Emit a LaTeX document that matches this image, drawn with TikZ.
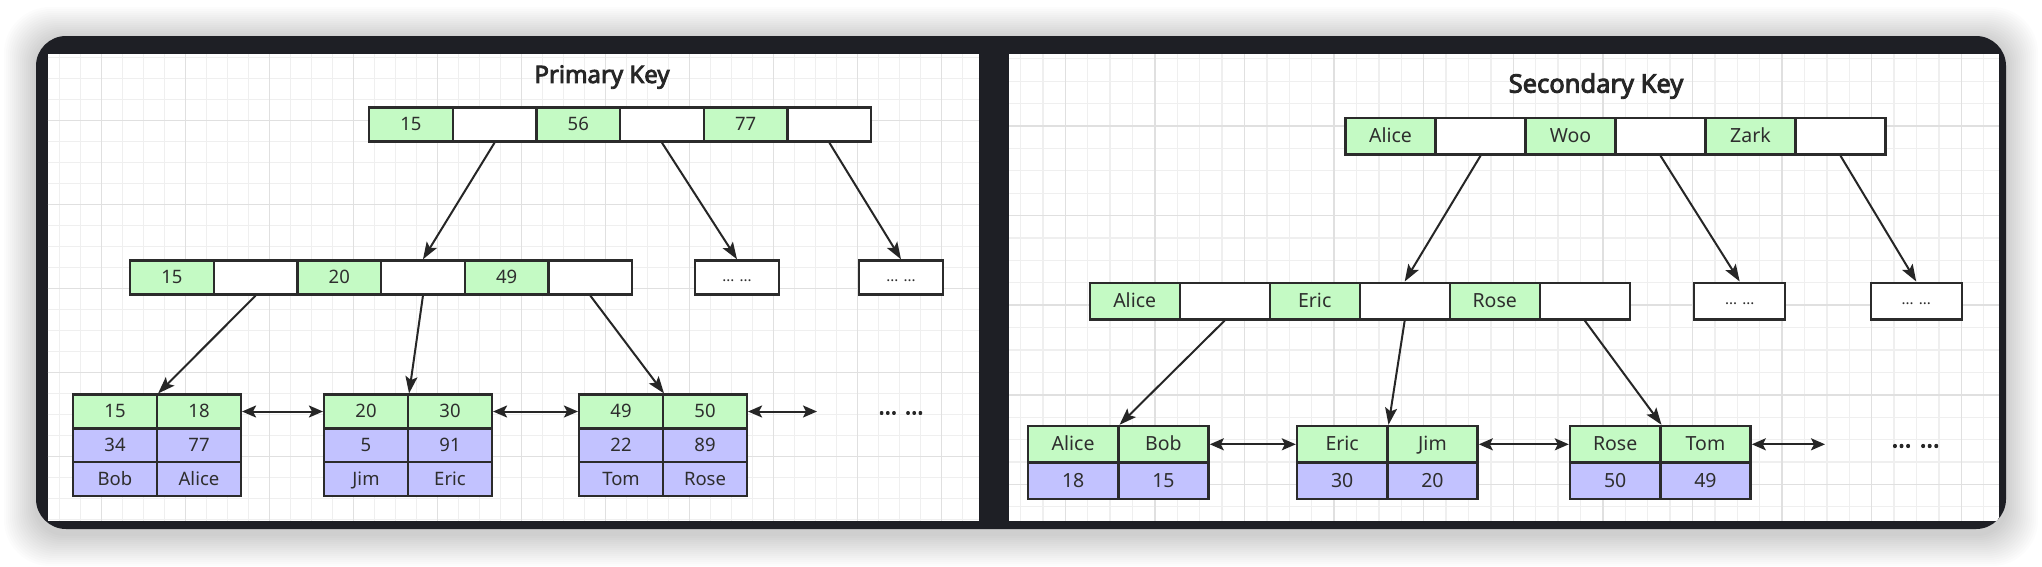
\documentclass[tikz,border=0pt]{standalone}
\usepackage{fontspec}
\setmainfont{Noto Sans}
\newfontfamily\titlefont{Noto Sans}[FakeBold=3.5]
\usetikzlibrary{arrows.meta}
\definecolor{cgreen}{HTML}{C4FAC4}
\definecolor{cpurple}{HTML}{C2C2FF}
\definecolor{cborder}{HTML}{2B2B2B}
\definecolor{cframe}{HTML}{1E1F25}
\definecolor{gminor}{HTML}{EFEFEF}
\definecolor{gmajor}{HTML}{E0E0E0}
\begin{document}
\begin{tikzpicture}[x=1pt,y=-1pt,
  cellL/.style={draw=cborder, line width=2.4pt, minimum width=83.7pt, minimum height=34pt, inner sep=0pt, font=\fontsize{18.5}{20}\selectfont, text=black!82, text height=13.2pt, text depth=1pt},
  cellR/.style={draw=cborder, line width=2.4pt, minimum width=90pt, minimum height=36.6pt, inner sep=0pt, font=\fontsize{19.5}{21}\selectfont, text=black!82, text height=14pt, text depth=1pt},
  g/.style={fill=cgreen}, w/.style={fill=white}, p/.style={fill=cpurple},
  dots/.style={font=\fontsize{15}{17}\selectfont, text height=10pt, text depth=3pt},
  arr/.style={draw=black!85, line width=2pt, -{Stealth[length=17pt,width=12pt,inset=3.5pt]}},
  darr/.style={draw=black!85, line width=2pt, {Stealth[length=14pt,width=12pt,inset=3pt]}-{Stealth[length=14pt,width=12pt,inset=3pt]}},
  title/.style={font=\titlefont\fontsize{24}{26}\selectfont, text=black!85},
  more/.style={font=\titlefont\fontsize{23}{25}\selectfont, text=black!85}]
\useasboundingbox (0,0) rectangle (2042,566);
\fill[white] (0,0) rectangle (2042,566);
% shadow
\foreach \k in {1,...,16} {
  \fill[black, opacity=0.011, rounded corners={30pt+\k pt}] ({36-2*\k},{36-2*\k+3}) rectangle ({2006+2*\k},{529+2*\k+5});
}
% frame
\fill[cframe, rounded corners=30pt] (36,36) rectangle (2006,529);
\begin{scope}
\clip[rounded corners=30pt] (36,36) rectangle (2006,529);
% left panel
\fill[white] (47.5,54) rectangle (979,521);
\begin{scope}
\clip (47.5,54) rectangle (979,521);
\foreach \i in {0,...,43} \draw[gminor, line width=1.3pt] ({59.7+21*\i},54) -- ++(0,467);
\foreach \i in {0,...,22} \draw[gminor, line width=1.3pt] (47.5,{57.7+21*\i}) -- ++(931.5,0);
\foreach \i in {0,...,10} \draw[gmajor, line width=1.5pt] ({101.7+84*\i},54) -- ++(0,467);
\foreach \i in {0,...,4} \draw[gmajor, line width=1.5pt] (47.5,{120.7+84*\i}) -- ++(931.5,0);
\end{scope}
% right panel
\fill[white] (1009,54) rectangle (1999,521);
\begin{scope}
\clip (1009,54) rectangle (1999,521);
\foreach \i in {0,...,43} \draw[gminor, line width=1.3pt] ({1020.5+22.4*\i},54) -- ++(0,467);
\foreach \i in {0,...,20} \draw[gminor, line width=1.3pt] (1009,{58.8+22.4*\i}) -- ++(990,0);
\foreach \i in {0,...,10} \draw[gmajor, line width=1.5pt] ({1065.3+89.6*\i},54) -- ++(0,467);
\foreach \i in {0,...,4} \draw[gmajor, line width=1.5pt] (1009,{126+89.6*\i}) -- ++(990,0);
\end{scope}
\end{scope}

% ================= LEFT: Primary Key =================
\node[title] (tL) at (602,77) {Primary Key};
% root
\node[cellL,g] (lr1) at (410.85,124.5) {15};
\node[cellL,w] (lr2) at (494.55,124.5) {};
\node[cellL,g] (lr3) at (578.25,124.5) {56};
\node[cellL,w] (lr4) at (661.95,124.5) {};
\node[cellL,g] (lr5) at (745.65,124.5) {77};
\node[cellL,w] (lr6) at (829.35,124.5) {};
% level 2
\node[cellL,g] (lm1) at (171.85,277.5) {15};
\node[cellL,w] (lm2) at (255.55,277.5) {};
\node[cellL,g] (lm3) at (339.25,277.5) {20};
\node[cellL,w] (lm4) at (422.95,277.5) {};
\node[cellL,g] (lm5) at (506.65,277.5) {49};
\node[cellL,w] (lm6) at (590.35,277.5) {};
\node[cellL,w,dots] (lx1) at (737,277.5) {... ...};
\node[cellL,w,dots] (lx2) at (901,277.5) {... ...};
% leaves
\node[cellL,g,minimum height=33.7pt] (la1) at (115,411.5) {15};
\node[cellL,g,minimum height=33.7pt] (la2) at (199,411.5) {18};
\node[cellL,p,minimum height=33.7pt] (la3) at (115,445.2) {34};
\node[cellL,p,minimum height=33.7pt] (la4) at (199,445.2) {77};
\node[cellL,p,minimum height=33.7pt] (la5) at (115,478.9) {Bob};
\node[cellL,p,minimum height=33.7pt] (la6) at (199,478.9) {Alice};
\node[cellL,g,minimum height=33.7pt] (lb1) at (366,411.5) {20};
\node[cellL,g,minimum height=33.7pt] (lb2) at (450,411.5) {30};
\node[cellL,p,minimum height=33.7pt] (lb3) at (366,445.2) {5};
\node[cellL,p,minimum height=33.7pt] (lb4) at (450,445.2) {91};
\node[cellL,p,minimum height=33.7pt] (lb5) at (366,478.9) {Jim};
\node[cellL,p,minimum height=33.7pt] (lb6) at (450,478.9) {Eric};
\node[cellL,g,minimum height=33.7pt] (lc1) at (621,411.5) {49};
\node[cellL,g,minimum height=33.7pt] (lc2) at (705,411.5) {50};
\node[cellL,p,minimum height=33.7pt] (lc3) at (621,445.2) {22};
\node[cellL,p,minimum height=33.7pt] (lc4) at (705,445.2) {89};
\node[cellL,p,minimum height=33.7pt] (lc5) at (621,478.9) {Tom};
\node[cellL,p,minimum height=33.7pt] (lc6) at (705,478.9) {Rose};
\coordinate (lend) at (817,411.5);
\node[more] (lmore) at (901,413) {... ...};
% arrows
\draw[arr] (lr2.south) -- (lm4.north);
\draw[arr] (lr4.south) -- (lx1.north);
\draw[arr] (lr6.south) -- (lx2.north);
\draw[arr] (lm2.south) -- (la1.north east);
\draw[arr] (lm4.south) -- (lb1.north east);
\draw[arr] (lm6.south) -- (lc1.north east);
\draw[darr] (la2.east) -- (lb1.west);
\draw[darr] (lb2.east) -- (lc1.west);
\draw[darr] (lc2.east) -- (lend);

% ================= RIGHT: Secondary Key =================
\node[title, font=\titlefont\fontsize{25.5}{27}\selectfont] (tR) at (1596,86) {Secondary Key};
\node[cellR,g] (rr1) at (1390.5,136.3) {Alice};
\node[cellR,w] (rr2) at (1480.5,136.3) {};
\node[cellR,g] (rr3) at (1570.5,136.3) {Woo};
\node[cellR,w] (rr4) at (1660.5,136.3) {};
\node[cellR,g] (rr5) at (1750.5,136.3) {Zark};
\node[cellR,w] (rr6) at (1840.5,136.3) {};
\node[cellR,g] (rm1) at (1134.7,301) {Alice};
\node[cellR,w] (rm2) at (1224.7,301) {};
\node[cellR,g] (rm3) at (1314.7,301) {Eric};
\node[cellR,w] (rm4) at (1404.7,301) {};
\node[cellR,g] (rm5) at (1494.7,301) {Rose};
\node[cellR,w] (rm6) at (1584.7,301) {};
\node[cellR,w,dots,minimum width=91pt] (rx1) at (1739.7,301) {... ...};
\node[cellR,w,dots,minimum width=91pt] (rx2) at (1916.2,301) {... ...};
\node[cellR,g,minimum width=90.3pt] (ra1) at (1073.15,444.3) {Alice};
\node[cellR,g,minimum width=90.3pt] (ra2) at (1163.45,444.3) {Bob};
\node[cellR,p,minimum width=90.3pt] (ra3) at (1073.15,480.8) {18};
\node[cellR,p,minimum width=90.3pt] (ra4) at (1163.45,480.8) {15};
\node[cellR,g,minimum width=90.3pt] (rb1) at (1342.15,444.3) {Eric};
\node[cellR,g,minimum width=90.3pt] (rb2) at (1432.45,444.3) {Jim};
\node[cellR,p,minimum width=90.3pt] (rb3) at (1342.15,480.8) {30};
\node[cellR,p,minimum width=90.3pt] (rb4) at (1432.45,480.8) {20};
\node[cellR,g,minimum width=90.3pt] (rc1) at (1615.15,444.3) {Rose};
\node[cellR,g,minimum width=90.3pt] (rc2) at (1705.45,444.3) {Tom};
\node[cellR,p,minimum width=90.3pt] (rc3) at (1615.15,480.8) {50};
\node[cellR,p,minimum width=90.3pt] (rc4) at (1705.45,480.8) {49};
\coordinate (rend) at (1825,444.3);
\node[more, font=\titlefont\fontsize{24.5}{26}\selectfont] (rmore) at (1915.6,446) {... ...};
\draw[arr] (rr2.south) -- (rm4.north);
\draw[arr] (rr4.south) -- (rx1.north);
\draw[arr] (rr6.south) -- (rx2.north);
\draw[arr] (rm2.south) -- (ra1.north east);
\draw[arr] (rm4.south) -- (rb1.north east);
\draw[arr] (rm6.south) -- (rc1.north east);
\draw[darr] (ra2.east) -- (rb1.west);
\draw[darr] (rb2.east) -- (rc1.west);
\draw[darr] (rc2.east) -- (rend);
\end{tikzpicture}
\end{document}
